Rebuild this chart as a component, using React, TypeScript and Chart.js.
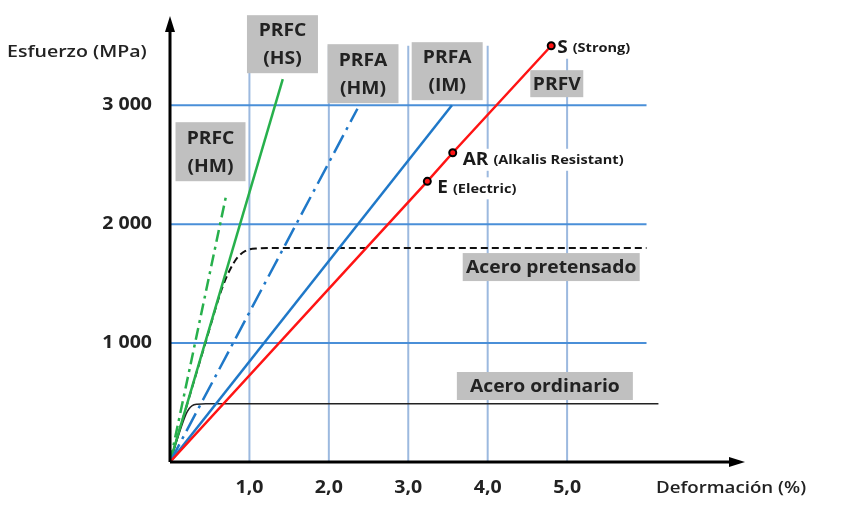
import React, { useEffect, useRef } from "react";
import Chart from "chart.js/auto";

// ejes y rejilla
const strainTicks = [1, 2, 3, 4, 5];
const strainTickLabels = ["1,0", "2,0", "3,0", "4,0", "5,0"];
const stressTicks = [1000, 2000, 3000];
const stressTickLabels = ["1 000", "2 000", "3 000"];
const gridStrainMax = 6;
const gridStressMax = 3500;

// curvas tensión-deformación (deformación en %, tensión en MPa)
const prfcHmStrain = [0, 0.71];
const prfcHmStress = [0, 2250];
const prfcHsStrain = [0, 1.42];
const prfcHsStress = [0, 3220];
const prfaHmStrain = [0, 2.36];
const prfaHmStress = [0, 2970];
const prfaImStrain = [0, 3.55];
const prfaImStress = [0, 3000];
const prfvStrain = [0, 3.24, 3.56, 4.8];
const prfvStress = [0, 2360, 2600, 3500];
const pretensadoStrain = [0, 0.45, 0.65, 0.75, 0.85, 0.95, 1.1, 1.4, 6.0];
const pretensadoStress = [0, 1010, 1450, 1610, 1720, 1775, 1795, 1800, 1800];
const ordinarioStrain = [0, 0.2, 0.24, 0.28, 0.34, 0.45, 6.15];
const ordinarioStress = [0, 400, 448, 474, 486, 490, 490];

// fibras marcadas sobre PRFV
const glassMarks = ["", "E", "AR", "S"];
const glassNotes = ["", "(Electric)", "(Alkalis Resistant)", "(Strong)"];

// rótulos en cajas grises
const boxLines = [["PRFC", "(HS)"], ["PRFA", "(HM)"], ["PRFA", "(IM)"], ["PRFC", "(HM)"], ["PRFV"], ["Acero pretensado"], ["Acero ordinario"]];
const boxStrain = [1.416, 2.43, 3.49, 0.51, 4.87, 4.8, 4.72];
const boxStress = [3513, 3265, 3286, 2609, 3181, 1639, 639];
const boxWidth = [71, 71, 71, 70, 53, 177, 176];
const boxHeight = [58, 59, 58, 59, 27, 28, 28];

const pts = (xs: number[], ys: number[]) => xs.map((x, i) => ({ x, y: ys[i] }));

const FONT = '"Open Sans", "DejaVu Sans", sans-serif';

// texto algo ensanchado, como en la figura original
function wideText(ctx: CanvasRenderingContext2D, text: string, px: number, py: number, sx: number) {
  ctx.save();
  ctx.translate(px, py);
  ctx.scale(sx, 1);
  ctx.fillText(text, 0, 0);
  ctx.restore();
}

const decor = {
  id: "decor",
  beforeDatasetsDraw(chart: any) {
    const { ctx, scales } = chart;
    const x = scales.x;
    const y = scales.y;
    ctx.save();
    ctx.lineWidth = 2;
    ctx.strokeStyle = "#9cb9df";
    strainTicks.forEach((v) => {
      const px = x.getPixelForValue(v);
      ctx.beginPath();
      ctx.moveTo(px, y.getPixelForValue(0));
      ctx.lineTo(px, y.getPixelForValue(gridStressMax));
      ctx.stroke();
    });
    ctx.strokeStyle = "#4a8fd8";
    stressTicks.forEach((v) => {
      const py = y.getPixelForValue(v);
      ctx.beginPath();
      ctx.moveTo(x.getPixelForValue(0), py);
      ctx.lineTo(x.getPixelForValue(gridStrainMax), py);
      ctx.stroke();
    });
    ctx.restore();
  },
  afterDatasetsDraw(chart: any) {
    const { ctx, scales } = chart;
    const x = scales.x;
    const y = scales.y;
    const x0 = x.getPixelForValue(0);
    const y0 = y.getPixelForValue(0);
    const xEnd = x.right;
    const yEnd = y.top;
    ctx.save();

    // ejes con flechas
    ctx.strokeStyle = "#000";
    ctx.fillStyle = "#000";
    ctx.lineWidth = 3;
    ctx.beginPath();
    ctx.moveTo(x0, y0);
    ctx.lineTo(xEnd - 10, y0);
    ctx.moveTo(x0, y0);
    ctx.lineTo(x0, yEnd + 10);
    ctx.stroke();
    ctx.beginPath();
    ctx.moveTo(xEnd, y0);
    ctx.lineTo(xEnd - 16, y0 - 5);
    ctx.lineTo(xEnd - 16, y0 + 5);
    ctx.closePath();
    ctx.fill();
    ctx.beginPath();
    ctx.moveTo(x0, yEnd);
    ctx.lineTo(x0 - 5, yEnd + 16);
    ctx.lineTo(x0 + 5, yEnd + 16);
    ctx.closePath();
    ctx.fill();

    // cajas grises
    boxLines.forEach((lines, i) => {
      const cx = x.getPixelForValue(boxStrain[i]);
      const cy = y.getPixelForValue(boxStress[i]);
      const w = boxWidth[i];
      const h = boxHeight[i];
      ctx.fillStyle = "#c0c0c0";
      ctx.fillRect(cx - w / 2, cy - h / 2, w, h);
      ctx.fillStyle = "#222";
      ctx.textAlign = "center";
      ctx.textBaseline = "middle";
      ctx.font = `bold 18px ${FONT}`;
      const lh = 28;
      lines.forEach((t, j) => {
        wideText(ctx, t, cx, cy + (j - (lines.length - 1) / 2) * lh + 1, 1.07);
      });
    });

    // rótulos de las fibras de vidrio
    const sx = 1.12;
    glassMarks.forEach((m, i) => {
      if (!m) return;
      const px = x.getPixelForValue(prfvStrain[i]) + (i === 3 ? 6 : 10);
      const py = y.getPixelForValue(prfvStress[i]) + (i === 3 ? 2 : 7);
      ctx.textAlign = "left";
      ctx.textBaseline = "middle";
      ctx.font = `bold 17px ${FONT}`;
      const mw = ctx.measureText(m + " ").width * sx;
      ctx.font = `bold 13px ${FONT}`;
      const nw = ctx.measureText(glassNotes[i]).width * sx;
      ctx.fillStyle = "#fff";
      ctx.fillRect(px - 1, py - 11, mw + nw + 3, 22);
      ctx.fillStyle = "#1a1a1a";
      ctx.font = `bold 17px ${FONT}`;
      wideText(ctx, m, px, py, sx);
      ctx.font = `bold 13px ${FONT}`;
      wideText(ctx, glassNotes[i], px + mw, py + 1, sx);
    });

    // marcas de graduación
    ctx.fillStyle = "#222";
    ctx.font = `bold 17px ${FONT}`;
    ctx.textAlign = "right";
    ctx.textBaseline = "middle";
    stressTicks.forEach((v, i) => {
      wideText(ctx, stressTickLabels[i], x0 - 18, y.getPixelForValue(v), 1.15);
    });
    ctx.textAlign = "center";
    strainTicks.forEach((v, i) => {
      wideText(ctx, strainTickLabels[i], x.getPixelForValue(v), y0 + 26, 1.15);
    });

    // títulos de ejes
    ctx.font = `600 17px ${FONT}`;
    ctx.textAlign = "left";
    wideText(ctx, "Esfuerzo (MPa)", 7, 52, 1.15);
    wideText(ctx, "Deformación (%)", 656, y0 + 26, 1.1);
    ctx.restore();
  },
};

const App: React.FC = () => {
  const canvasRef = useRef<HTMLCanvasElement | null>(null);

  useEffect(() => {
    if (!canvasRef.current) return;
    const ctx = canvasRef.current.getContext("2d");
    if (!ctx) return;

    const chart = new Chart(ctx, {
      type: "scatter",
      data: {
        datasets: [
          {
            label: "PRFV",
            data: pts(prfvStrain, prfvStress),
            borderColor: "#ff1414",
            borderWidth: 2.5,
            showLine: true,
            pointRadius: [0, 3.5, 3.5, 3.5],
            pointBorderWidth: 2,
            pointBorderColor: "#000",
            pointBackgroundColor: "#ff1414",
          },
          {
            label: "PRFA (IM)",
            data: pts(prfaImStrain, prfaImStress),
            borderColor: "#1f78c8",
            borderWidth: 2.5,
            showLine: true,
            pointRadius: 0,
          },
          {
            label: "PRFA (HM)",
            data: pts(prfaHmStrain, prfaHmStress),
            borderColor: "#1f78c8",
            borderWidth: 2.5,
            borderDash: [20, 6, 3, 6],
            showLine: true,
            pointRadius: 0,
          },
          {
            label: "PRFC (HS)",
            data: pts(prfcHsStrain, prfcHsStress),
            borderColor: "#27b04c",
            borderWidth: 2.5,
            showLine: true,
            pointRadius: 0,
          },
          {
            label: "PRFC (HM)",
            data: pts(prfcHmStrain, prfcHmStress),
            borderColor: "#27b04c",
            borderWidth: 2.5,
            borderDash: [12, 5, 3, 5],
            showLine: true,
            pointRadius: 0,
          },
          {
            label: "Acero pretensado",
            data: pts(pretensadoStrain, pretensadoStress),
            borderColor: "#111",
            borderWidth: 2,
            borderDash: [7, 4],
            showLine: true,
            cubicInterpolationMode: "monotone",
            pointRadius: 0,
          },
          {
            label: "Acero ordinario",
            data: pts(ordinarioStrain, ordinarioStress),
            borderColor: "#222",
            borderWidth: 1.5,
            showLine: true,
            cubicInterpolationMode: "monotone",
            pointRadius: 0,
          },
        ],
      },
      options: {
        responsive: false,
        animation: false,
        layout: { padding: { left: 170, right: 103, top: 16, bottom: 46 } },
        plugins: { legend: { display: false }, tooltip: { enabled: false } },
        scales: {
          x: { type: "linear", min: 0, max: 7.24, display: false },
          y: { type: "linear", min: 0, max: 3750, display: false },
        },
      },
      plugins: [decor],
    });

    return () => {
      chart.destroy();
    };
  }, []);

  return (
    <div style={{ position: "absolute", left: 0, top: 0, width: 848, height: 508, background: "#fff" }}>
      <canvas ref={canvasRef} width={848} height={508} />
    </div>
  );
};

export default App;
